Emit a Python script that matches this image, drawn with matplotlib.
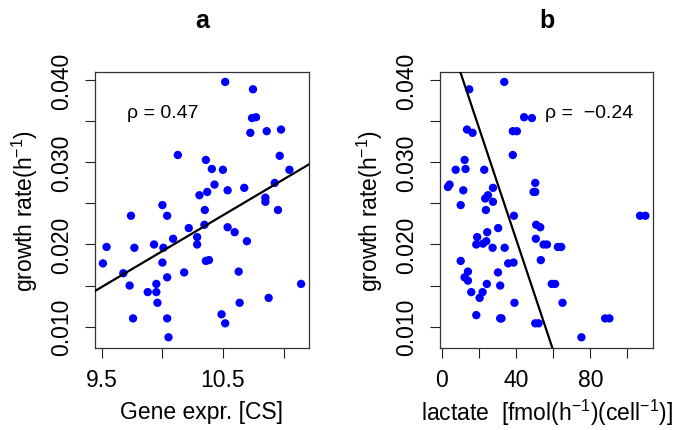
import matplotlib
matplotlib.use("Agg")
import matplotlib.pyplot as plt
import numpy as np

plt.rcParams['font.family'] = ['Liberation Sans', 'DejaVu Sans']
plt.rcParams['mathtext.fontset'] = 'custom'
plt.rcParams['mathtext.rm'] = 'Liberation Sans'
plt.rcParams['mathtext.it'] = 'Liberation Sans:italic'
plt.rcParams['mathtext.bf'] = 'Liberation Sans:bold'

# ---- data: panel a (gene expression vs growth rate) ----
gene_expr = [10.518, 10.747, 10.739, 10.772, 10.725, 10.860, 10.978, 10.128, 10.967, 10.359,
             10.408, 10.499, 11.047, 10.430, 10.926, 10.675, 10.538, 10.370, 10.306, 10.849,
             10.849, 10.001, 10.350, 10.953, 9.742, 10.040, 10.347, 10.218, 10.538, 10.596,
             10.287, 10.089, 10.697, 9.932, 10.287, 9.541, 9.770, 10.009, 9.511, 10.001,
             10.359, 10.384, 9.679, 10.180, 10.629, 10.040, 9.951, 9.731, 11.143, 9.880,
             9.951, 9.960, 10.876, 10.637, 9.759, 10.040, 10.488, 10.518, 10.051]
growth_a = [0.0398, 0.0389, 0.0354, 0.0355, 0.0336, 0.0338, 0.0340, 0.0309, 0.0308, 0.0303,
            0.0292, 0.0291, 0.0291, 0.0273, 0.0275, 0.0269, 0.0266, 0.0264, 0.0260, 0.0257,
            0.0252, 0.0248, 0.0242, 0.0242, 0.0235, 0.0235, 0.0224, 0.0220, 0.0221, 0.0215,
            0.0209, 0.0207, 0.0204, 0.0200, 0.0200, 0.0197, 0.0196, 0.0196, 0.0177, 0.0178,
            0.0180, 0.0181, 0.0165, 0.0166, 0.0167, 0.0160, 0.0152, 0.0150, 0.0152, 0.0142,
            0.0142, 0.0129, 0.0135, 0.0129, 0.0110, 0.0110, 0.0115, 0.0104, 0.0087]
fit_a_intercept = -0.06831
fit_a_slope = 0.00875
rho_a = "0.47"

# ---- data: panel b (lactate vs growth rate) ----
lactate = [33.6, 14.7, 44.3, 48.5, 13.5, 16.5, 38.2, 40.4, 38.2, 12.2,
           7.4, 12.7, 22.8, 50.3, 3.2, 4.1, 11.5, 27.5, 49.4, 50.3,
           24.8, 23.3, 27.5, 10.1, 23.7, 38.8, 106.8, 109.7, 30.3, 50.8,
           53.0, 24.4, 19.0, 50.6, 18.5, 22.1, 23.9, 27.3, 33.8, 54.8,
           56.6, 62.5, 64.3, 10.1, 35.7, 38.6, 53.3, 14.0, 30.2, 12.2,
           14.0, 24.2, 31.4, 59.2, 61.0, 15.8, 21.9, 20.3, 39.1, 65.0,
           18.5, 31.4, 32.1, 50.3, 52.1, 88.0, 90.3, 75.2]
growth_b = [0.0398, 0.0389, 0.0355, 0.0354, 0.0340, 0.0336, 0.0338, 0.0338, 0.0309, 0.0303,
            0.0291, 0.0292, 0.0291, 0.0275, 0.0270, 0.0273, 0.0266, 0.0269, 0.0264, 0.0264,
            0.0260, 0.0256, 0.0252, 0.0248, 0.0242, 0.0235, 0.0235, 0.0235, 0.0220, 0.0224,
            0.0221, 0.0215, 0.0209, 0.0207, 0.0200, 0.0201, 0.0204, 0.0196, 0.0196, 0.0200,
            0.0200, 0.0197, 0.0197, 0.0180, 0.0177, 0.0178, 0.0181, 0.0167, 0.0166, 0.0160,
            0.0156, 0.0152, 0.0150, 0.0152, 0.0152, 0.0142, 0.0142, 0.0135, 0.0129, 0.0129,
            0.0114, 0.0110, 0.0110, 0.0104, 0.0104, 0.0110, 0.0110, 0.0087]
fit_b_intercept = 0.04771
fit_b_slope = -0.000677
rho_b = "\u22120.24"

# ticks
y_ticks = [0.010, 0.015, 0.020, 0.025, 0.030, 0.035, 0.040]
y_ticklabels = ["0.010", "", "0.020", "", "0.030", "", "0.040"]
xa_ticks = [9.5, 10.0, 10.5, 11.0]
xa_ticklabels = ["9.5", "", "10.5", ""]
xb_ticks = [0, 20, 40, 60, 80, 100]
xb_ticklabels = ["0", "", "40", "", "80", ""]

W, H = 685, 431
fig = plt.figure(figsize=(W / 100, H / 100), dpi=100)

def px_axes(left, right, top, bottom):
    return fig.add_axes([left / W, 1 - bottom / H, (right - left) / W, (bottom - top) / H])

ax_a = px_axes(95, 309, 72.7, 348.5)
ax_b = px_axes(440, 653.3, 72.7, 348.5)

def rpad(vals, frac=0.04):
    lo, hi = min(vals), max(vals)
    d = (hi - lo) * frac
    return lo - d, hi + d

def style(ax, xticks, xticklabels, xlabel, title):
    ax.set_yticks(y_ticks)
    ax.set_yticklabels(y_ticklabels, rotation=90, va='center')
    ax.set_xticks(xticks)
    ax.set_xticklabels(xticklabels)
    ax.tick_params(axis='both', direction='out', length=7, width=0.8, color='#222222',
                   labelsize=16.5, labelcolor='black')
    ax.tick_params(axis='y', pad=9)
    ax.tick_params(axis='x', pad=8)
    for s in ax.spines.values():
        s.set_linewidth(0.9)
        s.set_color('#333333')
    ax.set_ylabel("growth rate(h$^{-1}$)", fontsize=16.5, va='center')
    ax.yaxis.set_label_coords(-70 / 214, 0.5)
    ax.set_xlabel(xlabel, fontsize=16.5, va='center')
    ax.xaxis.set_label_coords(0.5, -(413 - 348.5) / 275.8)
    ax.set_title(title, fontsize=18, fontweight='bold', pad=32)

# panel a
ax_a.scatter(gene_expr, growth_a, s=36, color='#0000FF', edgecolors='none', zorder=3)
ax_a.set_xlim(*rpad(gene_expr))
ax_a.set_ylim(*rpad(growth_a + growth_b))
ax_a.axline((0, fit_a_intercept), slope=fit_a_slope, color='black', lw=1.6, zorder=4)
ax_a.text(9.71, 0.0361, "\u03c1 = " + rho_a, fontsize=14, va='center', ha='left')
style(ax_a, xa_ticks, xa_ticklabels, "Gene expr. [CS]", "a")

# panel b
ax_b.scatter(lactate, growth_b, s=36, color='#0000FF', edgecolors='none', zorder=3)
ax_b.set_xlim(*rpad(lactate))
ax_b.set_ylim(*rpad(growth_a + growth_b))
ax_b.axline((0, fit_b_intercept), slope=fit_b_slope, color='black', lw=1.6, zorder=4)
ax_b.text(55.5, 0.0361, "\u03c1 =  " + rho_b, fontsize=14, va='center', ha='left')
style(ax_b, xb_ticks, xb_ticklabels, "lactate  [fmol(h$^{-1}$)(cell$^{-1}$)]", "b")

fig.savefig("out.png", dpi=100)
